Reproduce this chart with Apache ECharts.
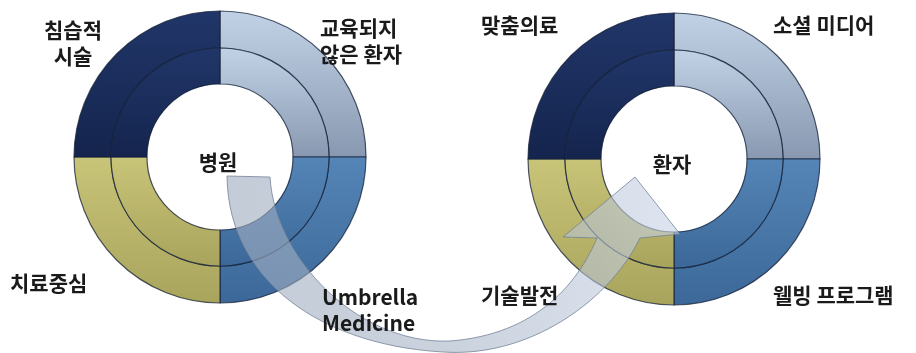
<!DOCTYPE html>
<html>
<head>
<meta charset="utf-8">
<script src="https://cdn.jsdelivr.net/npm/echarts@6/dist/echarts.min.js"></script>
<style>
  html, body { margin: 0; padding: 0; background: #ffffff; }
  #chart { width: 916px; height: 353px; }
</style>
</head>
<body>
<div id="chart"></div>
<script>
// Quadrant order follows the pie: clockwise from 12 o'clock (TR, BR, BL, TL)
const hubNames = ['병원', '환자'];
const hospitalFactors = ['교육되지\n않은 환자', 'Umbrella\nMedicine', '치료중심', '침습적\n시술'];
const patientFactors = ['소셜 미디어', '웰빙 프로그램', '기술발전', '맞춤의료'];
const innerRingShares = [25, 25, 25, 25];
const outerRingShares = [25, 25, 25, 25];

const chart = echarts.init(document.getElementById('chart'));

const hubs = [
  { cx: 220, cy: 157 },
  { cx: 674, cy: 159 }
];
const R_IN = 73, R_MID = 109, R_OUT = 146;

function lin(x2, y2, stops) {
  return {
    type: 'linear', x: 0, y: 0, x2: x2, y2: y2,
    colorStops: stops.map((c, i) => ({ offset: i / (stops.length - 1), color: c }))
  };
}
// quadrant fills: TR light steel, BR mid blue, BL olive, TL navy
const quadFills = [
  () => lin(0, 1, ['#c2d2e6', '#8898b0']),
  () => lin(0, 1, ['#5585b7', '#3b6898']),
  () => lin(0, 1, ['#c8c478', '#a9a45c']),
  () => lin(0, 1, ['#213669', '#14244d'])
];

function ring(hubIdx, names, values, r0, r1) {
  const h = hubs[hubIdx];
  return {
    type: 'pie',
    z: 2,
    silent: true,
    startAngle: 90,
    clockwise: true,
    center: [h.cx, h.cy],
    radius: [r0, r1],
    label: { show: false },
    labelLine: { show: false },
    emphasis: { disabled: true },
    animation: false,
    data: values.map((v, i) => ({
      name: names[i],
      value: v,
      itemStyle: {
        color: quadFills[i](),
        borderColor: 'rgba(20,32,55,0.75)',
        borderWidth: 1.2
      }
    }))
  };
}

const series = [
  ring(0, hospitalFactors, outerRingShares, R_MID, R_OUT),
  ring(0, hospitalFactors, innerRingShares, R_IN, R_MID),
  ring(1, patientFactors, outerRingShares, R_MID, R_OUT),
  ring(1, patientFactors, innerRingShares, R_IN, R_MID)
];

// label anchors for each quadrant, relative to the hub centre
const labelSpots = [
  [ { dx: 100, dy: -116, align: 'left' },  { dx: 102, dy: 153, align: 'left' },
    { dx: -210, dy: 126, align: 'left' },  { dx: -147, dy: -114, align: 'center' } ],
  [ { dx: 99, dy: -134, align: 'left' },   { dx: 99, dy: 136, align: 'left' },
    { dx: -193, dy: 136, align: 'left' },  { dx: -193, dy: -134, align: 'left' } ]
];

const FONT = 'bold 21px "Noto Sans CJK KR", "Noto Sans", sans-serif';
const graphics = [];

// sample a cubic bezier into polygon vertices
function bez(p0, p1, p2, p3, n) {
  const out = [];
  for (let k = 1; k <= n; k++) {
    const t = k / n, u = 1 - t;
    out.push([
      u * u * u * p0[0] + 3 * u * u * t * p1[0] + 3 * u * t * t * p2[0] + t * t * t * p3[0],
      u * u * u * p0[1] + 3 * u * u * t * p1[1] + 3 * u * t * t * p2[1] + t * t * t * p3[1]
    ]);
  }
  return out;
}

// curved arrow from the hospital hub round to the patient hub
(function () {
  const a = hubs[0], b = hubs[1];
  const L = (dx, dy) => [a.cx + dx, a.cy + dy];
  const R = (dx, dy) => [b.cx + dx, b.cy + dy];
  let pts = [L(7, 19)];
  pts = pts.concat(bez(L(7, 19), L(8, 123), L(100, 188), L(223, 195), 30));
  pts = pts.concat(bez(L(223, 195), L(310, 201), R(-64, 141), R(-34, 79), 30));
  pts.push(R(6, 75), R(-39, 18), R(-111, 78), R(-77, 79));
  pts = pts.concat(bez(R(-77, 79), R(-99, 131), R(-144, 176), L(230, 184), 30));
  pts = pts.concat(bez(L(230, 184), L(140, 188), L(55, 103), L(50, 20), 30));
  graphics.push({
    type: 'polygon',
    z: 5,
    silent: true,
    shape: { points: pts },
    style: {
      fill: lin(1, 0, ['rgba(160,172,192,0.62)', 'rgba(165,178,198,0.58)', 'rgba(200,212,230,0.6)']),
      stroke: 'rgba(110,125,148,0.75)',
      lineWidth: 1
    }
  });
})();

[hospitalFactors, patientFactors].forEach((names, hi) => {
  const h = hubs[hi];
  names.forEach((name, i) => {
    const s = labelSpots[hi][i];
    graphics.push({
      type: 'text',
      z: 10,
      silent: true,
      style: {
        text: name,
        x: h.cx + s.dx,
        y: h.cy + s.dy,
        align: s.align,
        verticalAlign: 'middle',
        font: FONT,
        lineHeight: 26,
        fill: '#1a1a1a'
      }
    });
  });
  graphics.push({
    type: 'text',
    z: 10,
    silent: true,
    style: {
      text: hubNames[hi],
      x: h.cx - 2,
      y: h.cy + 5,
      align: 'center',
      verticalAlign: 'middle',
      font: FONT,
      fill: '#1a1a1a'
    }
  });
});

chart.setOption({
  backgroundColor: '#ffffff',
  animation: false,
  series: series,
  graphic: graphics
});
</script>
</body>
</html>
